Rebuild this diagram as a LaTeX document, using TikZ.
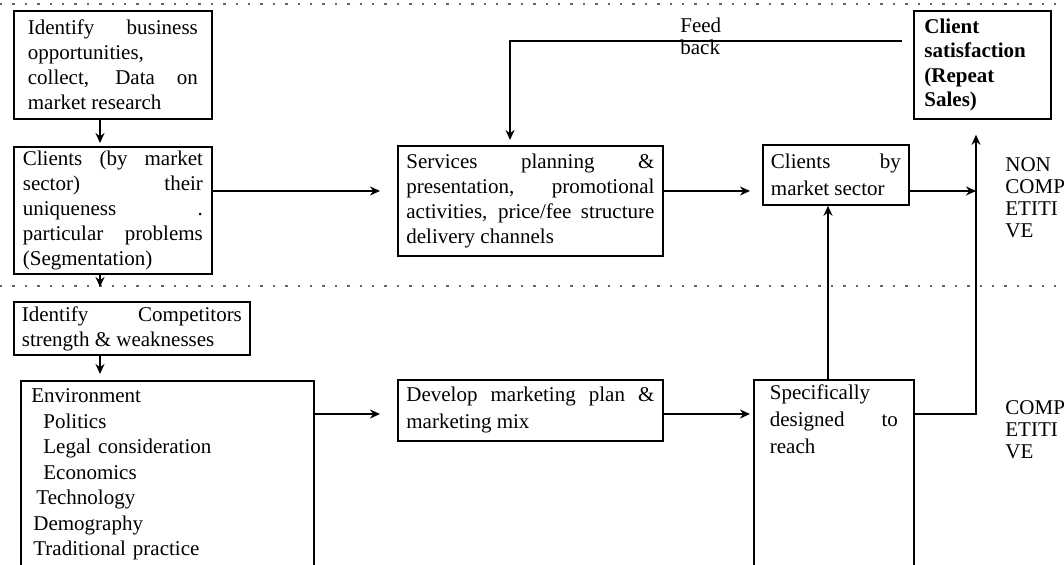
\documentclass[tikz,border=0pt]{standalone}
\usepackage{fontspec}
\setmainfont{Liberation Serif}
\usetikzlibrary{arrows.meta}

\begin{document}
\begin{tikzpicture}[x=0.5pt,y=-0.5pt,>={Stealth[length=5pt,width=4.5pt]},
	box/.style={draw,line width=0.9pt,anchor=north west,inner xsep=4pt,inner ysep=2pt,align=justify,
		font=\fontsize{10.5pt}{12.5pt}\selectfont,
		execute at begin node={\hyphenpenalty=10000\tolerance=10000\hbadness=10000}},
	flow/.style={line width=0.8pt},
	sep/.style={black!60,line width=0.9pt,dash pattern=on 1.2pt off 5pt},
	plain/.style={anchor=north west,inner sep=0pt,align=left,font=\fontsize{10.5pt}{11pt}\selectfont}]
	\useasboundingbox (0,0) rectangle (1064,565);
	\clip (0,0) rectangle (1064,565);
	\draw [sep] (0,4) -- (1064,4);
	\draw [sep] (0,286) -- (1064,286);

	\coordinate (lane) at (100,0);
	\coordinate (row) at (0,191);
	\coordinate (lowrow) at (0,414);
	\coordinate (riser) at (976,0);
	\coordinate (upcol) at (828,0);
	\coordinate (fbcol) at (510,0);
	\coordinate (fbk) at (902,41);

	\node [box,text width=85pt,minimum width=99pt,minimum height=54pt] (ident) at (13,10)
		{Identify business\linebreak opportunities,\newline collect, Data on\linebreak market research};
	\node [box,text width=90pt,minimum width=99pt,minimum height=63.5pt] (clients) at (13,146)
		{Clients (by market\linebreak sector) their\linebreak uniqueness .\linebreak particular problems\linebreak (Segmentation)};
	\node [box,text width=110pt,minimum width=116pt,minimum height=26.5pt] (compet) at (13,301)
		{Identify Competitors\linebreak strength \& weaknesses};
	\node [box,align=left,text width=136pt,minimum width=146.5pt,inner ysep=4pt,text depth=110pt,
		font=\fontsize{10.5pt}{12.75pt}\selectfont] (envir) at (20,380)
		{Environment\\\hspace*{6pt}Politics\\\hspace*{6pt}Legal consideration\\\hspace*{6pt}Economics\\
		\hspace*{2.5pt}Technology\\\hspace*{1pt}Demography\\\hspace*{1pt}Traditional practice};
	\node [box,text width=124pt,minimum width=132.5pt,minimum height=55pt] (serv) at (397,145)
		{Services planning \&\linebreak presentation, promotional\linebreak activities, price/fee structure\linebreak delivery channels};
	\node [box,text width=65pt,minimum width=72.5pt,minimum height=30pt,
		font=\fontsize{10.5pt}{13.5pt}\selectfont] (sector) at (762,144)
		{Clients by\linebreak market sector};
	\node [box,align=left,text width=58pt,minimum width=68.5pt,minimum height=54pt,
		font=\fontsize{10.5pt}{12.2pt}\selectfont\bfseries] (satis) at (913,10)
		{Client\\satisfaction\\(Repeat\\Sales)};
	\node [box,text width=124pt,minimum width=132.5pt,minimum height=30.5pt,
		font=\fontsize{10.5pt}{13.5pt}\selectfont] (develop) at (397,379)
		{Develop marketing plan \&\linebreak marketing mix};
	\node [box,text width=64pt,minimum width=80pt,inner ysep=2.5pt,text depth=110pt,
		font=\fontsize{10.5pt}{13.5pt}\selectfont] (specif) at (753,379)
		{Specifically\newline designed to\linebreak reach};

	\node [plain] (feed) at (680,18) {Feed\\back};
	\node [plain] (noncomp) at (1005,157) {NON\\COMP\\ETITI\\VE};
	\node [plain] (comp) at (1005,400) {COMP\\ETITI\\VE};

	\draw [flow,->,shorten >=1.5pt] (ident.south -| lane) -- (clients.north -| lane);
	\draw [flow,->,shorten >=7pt] (clients.south -| lane) -- (compet.north -| lane);
	\draw [flow,->,shorten >=3pt] (compet.south -| lane) -- (envir.north -| lane);
	\draw [flow,->,shorten >=8.5pt] (clients.east |- row) -- (serv.west |- row);
	\draw [flow,->,shorten >=6pt] (serv.east |- row) -- (sector.west |- row);
	\draw [flow,->] (sector.east |- row) -- (riser |- row);
	\draw [flow,->,shorten >=2.5pt] (fbk) -| (serv.north -| fbcol);
	\draw [flow,->,shorten >=8.5pt] (envir.east |- lowrow) -- (develop.west |- lowrow);
	\draw [flow,->,shorten >=1.5pt] (develop.east |- lowrow) -- (specif.west |- lowrow);
	\draw [flow,->] (specif.north -| upcol) -- (sector.south -| upcol);
	\draw [flow,->,shorten >=7.5pt] (specif.east |- lowrow) -| (satis.south -| riser);
\end{tikzpicture}
\end{document}
